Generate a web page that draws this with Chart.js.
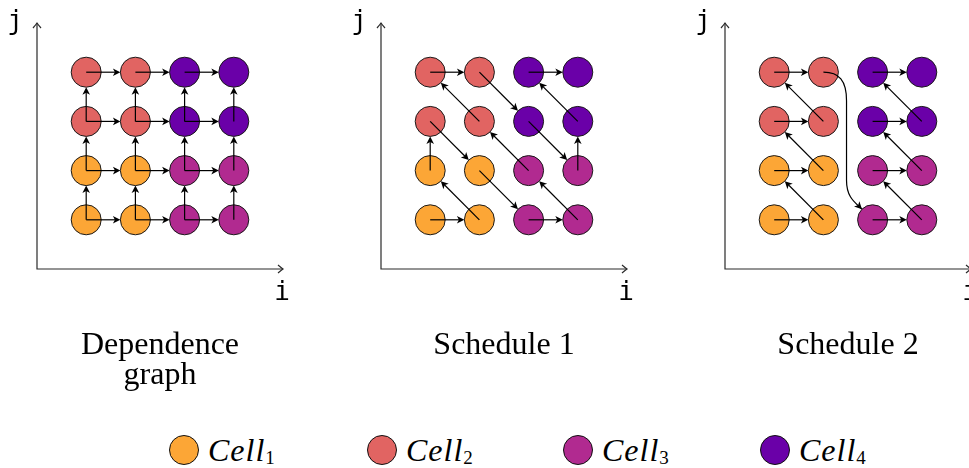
<!DOCTYPE html>
<html>
<head>
<meta charset="utf-8">
<script src="https://cdn.jsdelivr.net/npm/chart.js@4/dist/chart.umd.min.js"></script>
<style>
  html, body { margin: 0; padding: 0; background: #fff; }
  body { width: 969px; height: 468px; position: relative; overflow: hidden; }
  .panel { position: absolute; top: 0; }
  .legend-item { position: absolute; top: 435px; height: 30px; }
  .legend-dot {
    position: absolute; left: 0; top: 0; width: 30px; height: 30px;
    border: 1px solid #111; border-radius: 50%; box-sizing: border-box;
  }
  .legend-text {
    position: absolute; left: 39px; top: -1px; white-space: nowrap;
    font-family: "Liberation Serif", serif; font-style: italic; font-size: 32px;
    line-height: 32px; letter-spacing: 1px; color: #000;
  }
  .legend-text span { font-style: normal; font-size: 19px; vertical-align: -3px; letter-spacing: 0; }
</style>
</head>
<body>
<canvas id="panel0" class="panel" width="290" height="400" style="left:0px"></canvas>
<canvas id="panel1" class="panel" width="290" height="400" style="left:344px"></canvas>
<canvas id="panel2" class="panel" width="290" height="400" style="left:688px"></canvas>
<div id="legend"></div>
<script>
// cells: (i, j) positions of each colour group
const cellNames = ["Cell", "Cell", "Cell", "Cell"];
const cellSubs = ["1", "2", "3", "4"];
const cellColors = ["#fca636", "#e16462", "#b12a90", "#6a00a8"];
const cell1 = [{ x: 0, y: 0 }, { x: 1, y: 0 }, { x: 0, y: 1 }, { x: 1, y: 1 }];
const cell2 = [{ x: 0, y: 2 }, { x: 1, y: 2 }, { x: 0, y: 3 }, { x: 1, y: 3 }];
const cell3 = [{ x: 2, y: 0 }, { x: 3, y: 0 }, { x: 2, y: 1 }, { x: 3, y: 1 }];
const cell4 = [{ x: 2, y: 2 }, { x: 3, y: 2 }, { x: 2, y: 3 }, { x: 3, y: 3 }];

// arrows: [fromI, fromJ, toI, toJ]
const depArrows = [
  [0, 0, 1, 0], [1, 0, 2, 0], [2, 0, 3, 0],
  [0, 1, 1, 1], [1, 1, 2, 1], [2, 1, 3, 1],
  [0, 2, 1, 2], [1, 2, 2, 2], [2, 2, 3, 2],
  [0, 3, 1, 3], [1, 3, 2, 3], [2, 3, 3, 3],
  [0, 0, 0, 1], [0, 1, 0, 2], [0, 2, 0, 3],
  [1, 0, 1, 1], [1, 1, 1, 2], [1, 2, 1, 3],
  [2, 0, 2, 1], [2, 1, 2, 2], [2, 2, 2, 3],
  [3, 0, 3, 1], [3, 1, 3, 2], [3, 2, 3, 3]
];
const sched1Arrows = [
  [0, 0, 1, 0], [1, 0, 0, 1], [0, 1, 0, 2], [0, 2, 1, 1], [1, 1, 2, 0],
  [2, 0, 3, 0], [3, 0, 2, 1], [2, 1, 1, 2], [1, 2, 0, 3], [0, 3, 1, 3],
  [1, 3, 2, 2], [2, 2, 3, 1], [3, 1, 3, 2], [3, 2, 2, 3], [2, 3, 3, 3]
];
const sched2Arrows = [
  [0, 0, 1, 0], [1, 0, 0, 1], [0, 1, 1, 1], [1, 1, 0, 2], [0, 2, 1, 2], [1, 2, 0, 3], [0, 3, 1, 3],
  [2, 0, 3, 0], [3, 0, 2, 1], [2, 1, 3, 1], [3, 1, 2, 2], [2, 2, 3, 2], [3, 2, 2, 3], [2, 3, 3, 3]
];
// curved jump from (1,3) to (2,0) in schedule 2
const sched2Curve = [
  ["M", [1, 3]],
  ["C", [1.32, 3], [1.47, 2.83], [1.47, 2.42]],
  ["L", [1.47, 0.8]],
  ["C", [1.47, 0.45], [1.65, 0.35], [2, 0]]
];

const axisMin = -1;
const axisMax = 4;
const captions = [["Dependence", "graph"], ["Schedule 1"], ["Schedule 2"]];
const arrowSets = [depArrows, sched1Arrows, sched2Arrows];
const curveSets = [[], [], [sched2Curve]];

const R = 15;

function head(ctx, x, y, ang) {
  ctx.save();
  ctx.translate(x, y);
  ctx.rotate(ang);
  ctx.beginPath();
  ctx.moveTo(0, 0);
  ctx.lineTo(-7.5, -3.8);
  ctx.lineTo(-5.5, 0);
  ctx.lineTo(-7.5, 3.8);
  ctx.closePath();
  ctx.fill();
  ctx.restore();
}

function openHead(ctx, x, y, ang) {
  ctx.save();
  ctx.translate(x, y);
  ctx.rotate(ang);
  ctx.beginPath();
  ctx.moveTo(-5, -4);
  ctx.quadraticCurveTo(-1.5, -1, 0, 0);
  ctx.quadraticCurveTo(-1.5, 1, -5, 4);
  ctx.stroke();
  ctx.restore();
}

const diagramPlugin = {
  id: "diagram",
  beforeDatasetsDraw(chart) {
    const { ctx, scales: { x, y } } = chart;
    const ox = x.getPixelForValue(axisMin);
    const oy = y.getPixelForValue(axisMin);
    const ex = x.getPixelForValue(axisMax);
    const ty = y.getPixelForValue(axisMax);
    ctx.save();
    ctx.strokeStyle = "#2a2a2a";
    ctx.lineWidth = 1.2;
    ctx.beginPath();
    ctx.moveTo(ox, ty);
    ctx.lineTo(ox, oy);
    ctx.lineTo(ex, oy);
    ctx.stroke();
    openHead(ctx, ox, ty, -Math.PI / 2);
    openHead(ctx, ex, oy, 0);
    ctx.fillStyle = "#000";
    ctx.font = '26px "DejaVu Sans Mono"';
    ctx.textAlign = "center";
    ctx.textBaseline = "alphabetic";
    ctx.fillText("j", ox - 22, ty + 6);
    ctx.fillText("i", ex - 1, oy + 31);
    ctx.restore();
  },
  afterDatasetsDraw(chart, args, opts) {
    const { ctx, scales: { x, y }, chartArea } = chart;
    const P = (p) => [x.getPixelForValue(p[0]), y.getPixelForValue(p[1])];
    ctx.save();
    ctx.strokeStyle = "#000";
    ctx.fillStyle = "#000";
    ctx.lineWidth = 1.2;
    opts.arrows.forEach((a) => {
      const [sx, sy] = P([a[0], a[1]]);
      const [cx, cy] = P([a[2], a[3]]);
      const len = Math.hypot(cx - sx, cy - sy);
      const dx = (cx - sx) / len;
      const dy = (cy - sy) / len;
      const tx = cx - dx * R;
      const ty = cy - dy * R;
      ctx.beginPath();
      ctx.moveTo(sx, sy);
      ctx.lineTo(tx - dx * 5, ty - dy * 5);
      ctx.stroke();
      head(ctx, tx, ty, Math.atan2(dy, dx));
    });
    opts.curves.forEach((path) => {
      ctx.beginPath();
      let last = null;
      path.forEach((seg, k) => {
        const pts = seg.slice(1).map(P);
        if (seg[0] === "M") ctx.moveTo(...pts[0]);
        if (seg[0] === "L") ctx.lineTo(...pts[0]);
        if (seg[0] === "C") {
          let end = pts[2];
          if (k === path.length - 1) {
            const dx = end[0] - pts[1][0];
            const dy = end[1] - pts[1][1];
            const len = Math.hypot(dx, dy);
            end = [end[0] - (dx / len) * R, end[1] - (dy / len) * R];
            last = { end, ang: Math.atan2(dy, dx) };
          }
          ctx.bezierCurveTo(...pts[0], ...pts[1], ...end);
        }
      });
      ctx.stroke();
      if (last) head(ctx, last.end[0], last.end[1], last.ang);
    });
    // caption under the panel
    ctx.font = '32px "Liberation Serif"';
    ctx.textAlign = "center";
    ctx.textBaseline = "alphabetic";
    const mid = (chartArea.left + chartArea.right) / 2;
    opts.caption.forEach((line, k) => ctx.fillText(line, mid, 354 + k * 30));
    ctx.restore();
  }
};

function buildPanel(idx) {
  const cells = [cell1, cell2, cell3, cell4];
  return new Chart(document.getElementById("panel" + idx), {
    type: "scatter",
    data: {
      datasets: cells.map((pts, k) => ({
        label: cellNames[k] + cellSubs[k],
        data: pts,
        backgroundColor: cellColors[k],
        borderColor: "#1a1a1a",
        borderWidth: 1,
        pointRadius: R,
        pointHoverRadius: R,
        clip: false
      }))
    },
    options: {
      responsive: false,
      animation: false,
      events: [],
      layout: { autoPadding: false, padding: { left: 37, top: 23, right: 7, bottom: 131 } },
      scales: {
        x: { type: "linear", min: axisMin, max: axisMax, display: false },
        y: { type: "linear", min: axisMin, max: axisMax, display: false }
      },
      plugins: {
        legend: { display: false },
        tooltip: { enabled: false },
        diagram: { arrows: arrowSets[idx], curves: curveSets[idx], caption: captions[idx] }
      }
    },
    plugins: [diagramPlugin]
  });
}

[0, 1, 2].forEach(buildPanel);

// legend row
const legendLefts = [169, 367, 563, 760];
document.getElementById("legend").innerHTML = cellColors
  .map(
    (c, k) => `
    <div class="legend-item" style="left:${legendLefts[k]}px">
      <div class="legend-dot" style="background:${c}"></div>
      <div class="legend-text">${cellNames[k]}<span>${cellSubs[k]}</span></div>
    </div>`
  )
  .join("");
</script>
</body>
</html>
